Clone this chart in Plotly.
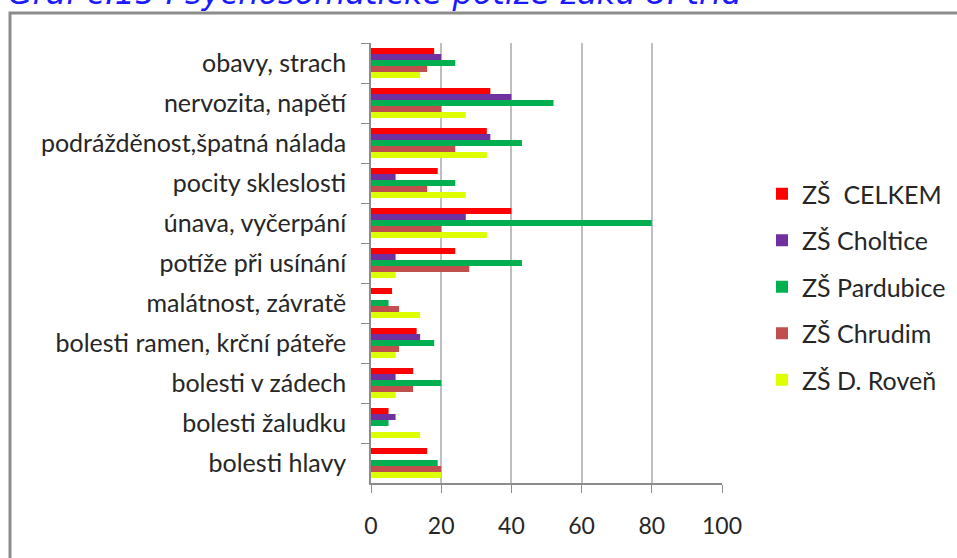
import plotly.graph_objects as go

categories = [
    "obavy, strach",
    "nervozita, napětí",
    "podrážděnost,špatná nálada",
    "pocity skleslosti",
    "únava, vyčerpání",
    "potíže při usínání",
    "malátnost, závratě",
    "bolesti ramen, krční páteře",
    "bolesti v zádech",
    "bolesti žaludku",
    "bolesti hlavy",
]

series_names = ["ZŠ\u00a0 CELKEM", "ZŠ Choltice", "ZŠ Pardubice", "ZŠ Chrudim", "ZŠ D. Roveň"]

celkem     = [18, 34, 33, 19, 40, 24, 6, 13, 12, 5, 16]
choltice   = [20, 40, 34, 7, 27, 7, 0, 14, 7, 7, 0]
pardubice  = [24, 52, 43, 24, 80, 43, 5, 18, 20, 5, 19]
chrudim    = [16, 20, 24, 16, 20, 28, 8, 8, 12, 0, 20]
roven      = [14, 27, 33, 27, 33, 7, 14, 7, 7, 14, 20]

x_ticks = [0, 20, 40, 60, 80, 100]
title_text = "Graf č.15 Psychosomatické potíže žáků 8. tříd"

colors = ["#FF0000", "#7030A0", "#00B050", "#C0504D", "#DDFF00"]
values = [celkem, choltice, pardubice, chrudim, roven]

fig = go.Figure()
for i, (name, vals) in enumerate(zip(series_names, values)):
    fig.add_trace(go.Bar(
        y=categories, x=vals, name=name, orientation="h",
        marker=dict(color=colors[i], line=dict(width=0)),
        legendgroup=f"g{i}",
    ))

W, H = 957, 558
ml, mr, mt, mb = 371, 235, 43, 75
pw, ph = W - ml - mr, H - mt - mb

def px2x(px):
    return (px - ml) / pw

def py2y(py):
    return (H - mb - py) / ph

font_main = "Lato, 'Open Sans', sans-serif"

fig.update_layout(
    width=W, height=H,
    margin=dict(l=ml, r=mr, t=mt, b=mb, autoexpand=False),
    paper_bgcolor="white", plot_bgcolor="white",
    barmode="group", bargap=0.25, bargroupgap=0,
    showlegend=True,
    legend=dict(
        x=px2x(762), y=py2y(171), xref="paper", yref="paper",
        xanchor="left", yanchor="top",
        font=dict(family=font_main, size=25, color="#262626"),
        tracegroupgap=11, bgcolor="rgba(0,0,0,0)",
        itemwidth=30,
    ),
    xaxis=dict(
        range=[0, 100], tickvals=x_ticks, showgrid=True,
        gridcolor="#BFBFBF", gridwidth=2,
        showline=True, linecolor="#8C8C8C", linewidth=1.5,
        ticks="outside", ticklen=8, tickcolor="#8C8C8C",
        ticklabelstandoff=14,
        tickfont=dict(family=font_main, size=23, color="#262626"),
        zeroline=False, fixedrange=True,
    ),
    yaxis=dict(
        categoryorder="array", categoryarray=categories,
        autorange="reversed",
        showline=True, linecolor="#8C8C8C", linewidth=1.5,
        ticks="outside", ticklen=8, tickcolor="#8C8C8C",
        tickson="boundaries", ticklabelstandoff=18,
        tickfont=dict(family=font_main, size=25, color="#262626"),
        showgrid=False, fixedrange=True,
    ),
    shapes=[dict(
        type="rect", xref="paper", yref="paper",
        x0=px2x(10), x1=px2x(990), y0=py2y(13), y1=py2y(600),
        line=dict(color="#8C8C8C", width=3), fillcolor="rgba(0,0,0,0)",
        layer="below",
    )],
    annotations=[dict(
        text=title_text, xref="paper", yref="paper",
        x=px2x(6), y=py2y(-7), xanchor="left", yanchor="middle",
        showarrow=False,
        font=dict(family="DejaVu Sans, Verdana, sans-serif", size=32, color="#1A1AFF", style="italic"),
    )],
)

fig.write_html(
    "out.html",
    config={"displayModeBar": False},
    post_script="document.body.style.margin='0';document.body.style.overflow='hidden';",
)
